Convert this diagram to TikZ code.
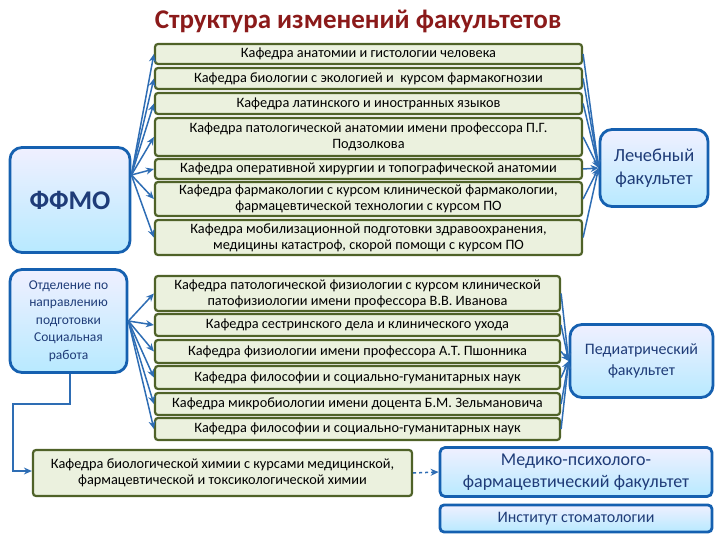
\documentclass[tikz,border=0pt]{standalone}
\usepackage{fontspec}
\setmainfont{Carlito}
\usetikzlibrary{arrows.meta}
\definecolor{gfill}{HTML}{EBF1DE}
\definecolor{gline}{HTML}{4F6228}
\definecolor{bline}{HTML}{1560B0}
\definecolor{btext}{HTML}{1F3C78}
\definecolor{arr}{HTML}{2E6DB4}
\definecolor{ttl}{HTML}{8B1A1A}
\tikzset{
 gbox/.style={draw=gline,line width=2.2pt,fill=gfill,rounded corners=3pt,inner sep=0pt,align=center,font=\fontsize{14.3}{16}\selectfont},
 bbox/.style={draw=bline,line width=2.8pt,top color=blue!6,bottom color=blue!30!cyan!28,rounded corners=12pt,inner sep=0pt,align=center,text=btext},
 ar/.style={draw=arr,line width=1.5pt,-{Stealth[length=8pt,width=7pt]}},
}
\newcommand{\gb}[6]{\node[gbox,minimum width=#3-#1,minimum height=#4-#2] (#5) at ({(#1+#3)/2},{(#2+#4)/2}) {#6};}
\begin{document}
\begin{tikzpicture}[x=1pt,y=-1pt]
\useasboundingbox (0,0) rectangle (720,540);
\node[text=ttl,font=\fontsize{27}{30}\selectfont\bfseries] (title) at (358,21) {Структура изменений факультетов};
\gb{155}{44}{582}{64}{a1}{Кафедра анатомии и гистологии человека}
\gb{155}{68}{582}{89}{a2}{Кафедра биологии с экологией и \ курсом фармакогнозии}
\gb{155}{93}{582}{114}{a3}{Кафедра латинского и иностранных языков}
\gb{155}{118}{582}{156}{a4}{Кафедра патологической анатомии имени профессора П.Г.\\Подзолкова}
\gb{155}{159}{582}{179}{a5}{Кафедра оперативной хирургии и топографической анатомии}
\gb{155}{182}{582}{216}{a6}{Кафедра фармакологии с курсом клинической фармакологии,\\фармацевтической технологии с курсом ПО}
\gb{155}{220}{582}{255}{a7}{Кафедра мобилизационной подготовки здравоохранения,\\медицины катастроф, скорой помощи с курсом ПО}
\gb{155}{276}{560}{311}{b1}{Кафедра патологической физиологии с курсом клинической\\патофизиологии имени профессора В.В. Иванова}
\gb{155}{314}{560}{336}{b2}{Кафедра сестринского дела и клинического ухода}
\gb{155}{340}{560}{363}{b3}{Кафедра физиологии имени профессора А.Т. Пшонника}
\gb{155}{366}{560}{389}{b4}{Кафедра философии и социально-гуманитарных наук}
\gb{155}{393}{560}{415}{b5}{Кафедра микробиологии имени доцента Б.М. Зельмановича}
\gb{155}{418}{560}{440}{b6}{Кафедра философии и социально-гуманитарных наук}
\gb{33}{450}{412}{496}{c1}{Кафедра биологической химии с курсами медицинской,\\фармацевтической и токсикологической химии}
\node[bbox,minimum width=120,minimum height=105,font=\fontsize{27}{30}\selectfont\bfseries] (ffmo) at (70,200) {ФФМО};
\node[bbox,minimum width=117,minimum height=103,font=\fontsize{13.5}{17.5}\selectfont] (otd) at (68.5,321) {Отделение по\\направлению\\подготовки\\Социальная\\работа};
\node[bbox,minimum width=108,minimum height=77,font=\fontsize{18.5}{23}\selectfont] (lech) at (654,168) {Лечебный\\факультет};
\node[bbox,minimum width=143,minimum height=73,font=\fontsize{16}{21}\selectfont] (ped) at (641.5,361) {Педиатрический\\факультет};
\node[bbox,rounded corners=5pt,minimum width=272,minimum height=49,font=\fontsize{18}{22}\selectfont] (med) at (576,472) {Медико-психолого-\\фармацевтический факультет};
\node[bbox,rounded corners=4pt,minimum width=272,minimum height=27,font=\fontsize{16}{18}\selectfont] (inst) at (576,518.5) {Институт стоматологии};
\foreach \n in {a1,a2,a3,a4,a5,a6,a7}{
  \draw[ar] (ffmo.east) ++(0,-25) -- (\n.west);
  \draw[ar] (\n.east) -- (lech.west);
}
\foreach \n in {b1,b2,b3,b4,b5,b6}{
  \draw[ar] (otd.east) -- (\n.west);
  \draw[ar] (\n.east) -- (ped.west);
}
\coordinate (k1) at (70,404);
\coordinate (k2) at (13,404);
\coordinate (k3) at (13,471);
\draw[ar] (otd.south -| k1) -- (k1) -- (k2) -- (k3) -- (c1.west |- k3);
\draw[ar,dashed] (c1.east) -- (med.west);
\end{tikzpicture}
\end{document}
